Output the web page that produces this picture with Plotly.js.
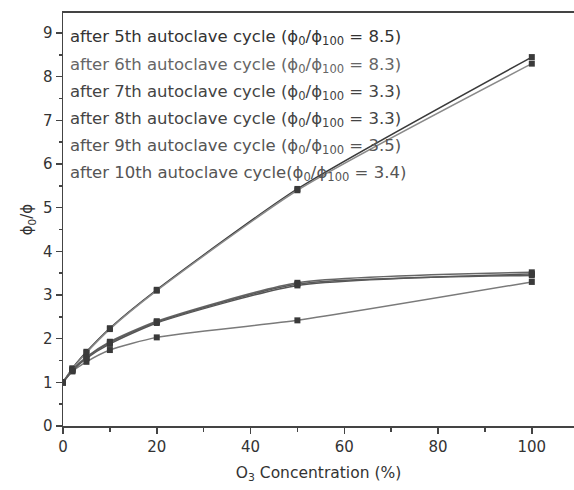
<!DOCTYPE html>
<html>
<head>
<meta charset="utf-8">
<script src="https://cdn.plot.ly/plotly-3.0.1.min.js"></script>
<style>html,body{margin:0;padding:0;background:#fff;}#chart{width:574px;height:490px;}</style>
</head>
<body>
<div id="chart"></div>
<script>
const concentration = [0, 2, 5, 10, 20, 50, 100];
const cycle5 = [1.0, 1.32, 1.70, 2.24, 3.12, 5.43, 8.45];
const cycle6 = [1.0, 1.31, 1.68, 2.22, 3.10, 5.40, 8.30];
const cycle7 = [1.0, 1.25, 1.47, 1.74, 2.03, 2.42, 3.30];
const cycle8 = [1.0, 1.27, 1.55, 1.88, 2.36, 3.22, 3.48];
const cycle9 = [1.0, 1.28, 1.58, 1.93, 2.40, 3.28, 3.52];
const cycle10 = [1.0, 1.27, 1.57, 1.91, 2.38, 3.25, 3.45];
const seriesNames = [
  'after 5th autoclave cycle (ϕ<sub>0</sub>/ϕ<sub>100</sub> = 8.5)',
  'after 6th autoclave cycle (ϕ<sub>0</sub>/ϕ<sub>100</sub> = 8.3)',
  'after 7th autoclave cycle (ϕ<sub>0</sub>/ϕ<sub>100</sub> = 3.3)',
  'after 8th autoclave cycle (ϕ<sub>0</sub>/ϕ<sub>100</sub> = 3.3)',
  'after 9th autoclave cycle (ϕ<sub>0</sub>/ϕ<sub>100</sub> = 3.5)',
  'after 10th autoclave cycle(ϕ<sub>0</sub>/ϕ<sub>100</sub> = 3.4)'
];
const allSeries = [cycle5, cycle6, cycle7, cycle8, cycle9, cycle10];
const lineColors = ['#3a3a3a', '#8a8a8a', '#7a7a7a', '#555555', '#666666', '#5a5a5a'];
const textColors = ['#333333', '#666666', '#444444', '#444444', '#555555', '#555555'];

const traces = allSeries.map((ys, i) => ({
  x: concentration, y: ys, name: seriesNames[i],
  type: 'scatter', mode: 'lines+markers',
  line: {shape: 'spline', smoothing: 0.6, color: lineColors[i], width: 1.5},
  marker: {symbol: 'square', size: 6, color: '#3a3a3a'},
  showlegend: false
}));

const annotations = seriesNames.map((t, i) => ({
  text: t, xref: 'paper', yref: 'paper', x: 0.01, y: 1 - (25 + i * 27) / 413,
  xanchor: 'left', yanchor: 'middle', showarrow: false,
  font: {family: 'DejaVu Sans, Verdana, sans-serif', size: 16.5, color: textColors[i]}
}));

const layout = {
  width: 574, height: 490,
  margin: {l: 63, r: 0, t: 13, b: 64},
  paper_bgcolor: '#fff', plot_bgcolor: '#fff',
  font: {family: 'DejaVu Sans, Verdana, sans-serif', size: 15, color: '#333'},
  xaxis: {
    range: [0, 109], tickvals: [0, 20, 40, 60, 80, 100],
    ticks: 'outside', ticklen: 6, tickcolor: '#444', tickwidth: 1.5,
    minor: {tickvals: [10, 30, 50, 70, 90], ticks: 'outside', ticklen: 4, tickcolor: '#444'},
    showline: true, linecolor: '#444', linewidth: 2, mirror: true,
    showgrid: false, zeroline: false,
    tickfont: {size: 15, color: '#333'},
    title: {text: 'O<sub>3</sub> Concentration (%)', font: {size: 15.5, color: '#333'}, standoff: 12}
  },
  yaxis: {
    range: [0, 9.46], tickvals: [0,1,2,3,4,5,6,7,8,9],
    ticks: 'outside', ticklen: 6, tickcolor: '#444', tickwidth: 1.5,
    minor: {tickvals: [0.5,1.5,2.5,3.5,4.5,5.5,6.5,7.5,8.5], ticks: 'outside', ticklen: 3, tickcolor: '#444'},
    showline: true, linecolor: '#444', linewidth: 1.5,
    showgrid: false, zeroline: false,
    tickfont: {size: 15, color: '#333'},
    title: {text: 'ϕ<sub>0</sub>/ϕ', font: {size: 15, color: '#333'}, standoff: 6}
  },
  annotations: annotations
};

Plotly.newPlot('chart', traces, layout, {displayModeBar: false, staticPlot: true});
</script>
</body>
</html>
